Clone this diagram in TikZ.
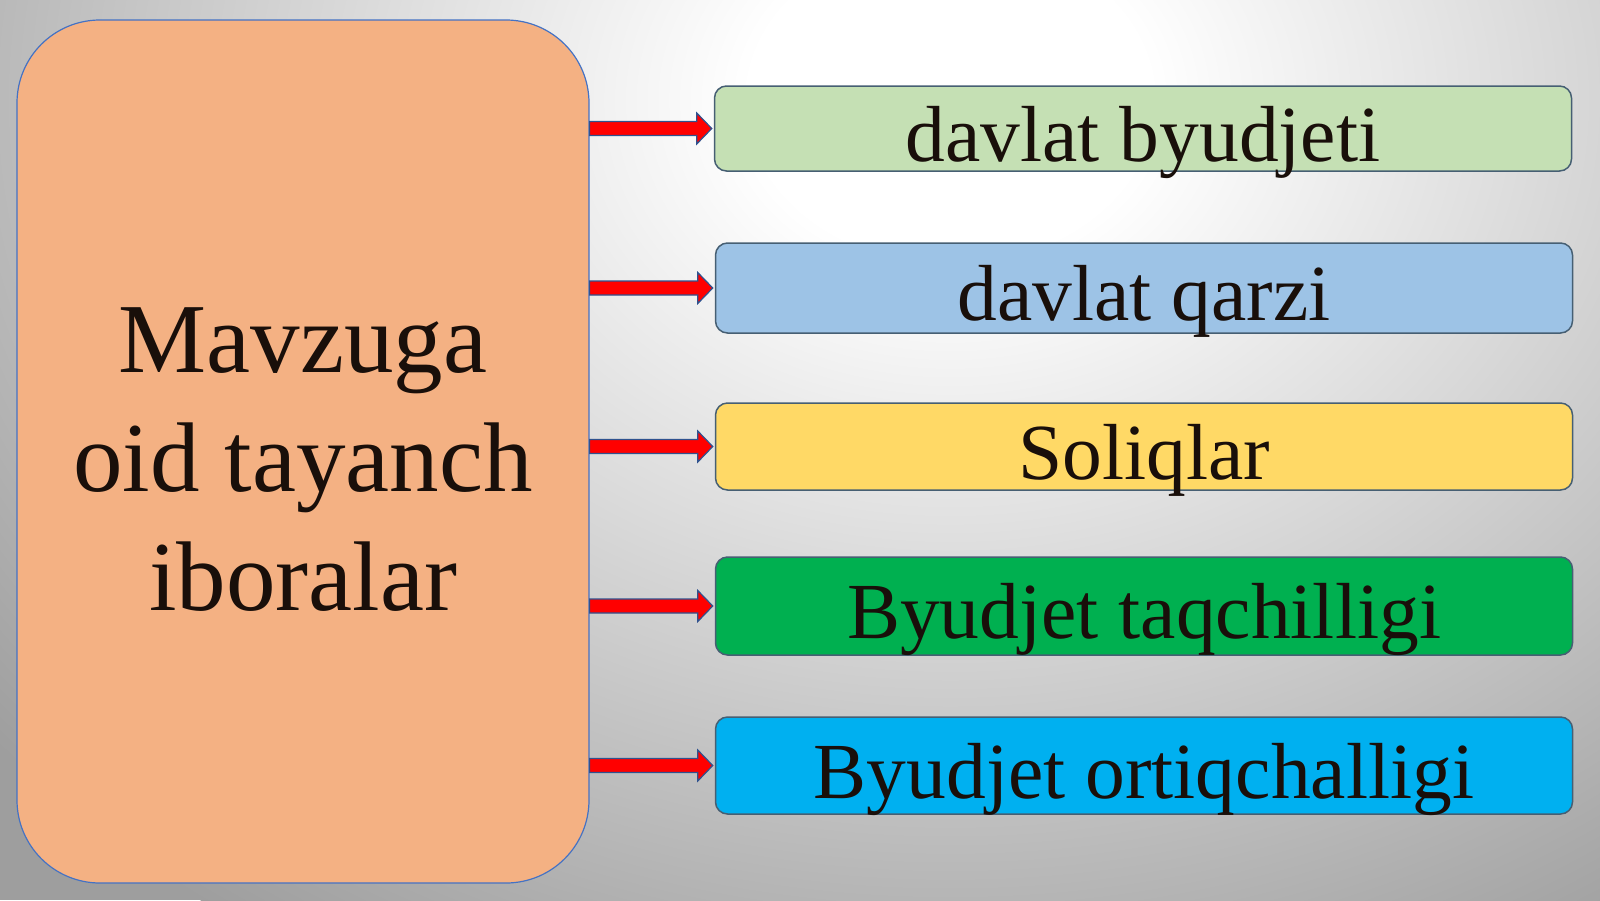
\documentclass[tikz,border=0pt]{standalone}
\usepackage{fontspec}
\setmainfont{Liberation Serif}
\usetikzlibrary{calc}

\definecolor{bgedge}{RGB}{158,158,158}
\definecolor{topicfill}{HTML}{F4B183}
\definecolor{topicline}{HTML}{4472C4}
\definecolor{keyline}{RGB}{70,95,115}
\definecolor{arrowline}{HTML}{2F528F}
\definecolor{inktext}{RGB}{25,15,10}
\definecolor{kbudget}{HTML}{C5E0B4}
\definecolor{kdebt}{HTML}{9DC3E6}
\definecolor{ktax}{HTML}{FFD966}
\definecolor{kdeficit}{HTML}{00B050}
\definecolor{ksurplus}{HTML}{00B0F0}

\pgfdeclareradialshading{backdrop}{\pgfpoint{0bp}{0bp}}{color(0bp)=(white); color(4bp)=(white); color(25bp)=(bgedge); color(50bp)=(bgedge)}

\tikzset{
    topicbox/.style={draw=topicline, fill=topicfill, line width=1.2pt, rounded corners=83pt,
        minimum width=572pt, minimum height=863pt, inner sep=0pt},
    topictext/.style={font=\fontsize{99}{119}\selectfont, text=inktext, align=center, inner sep=0pt},
    keybox/.style={draw=keyline, line width=1.5pt, rounded corners=12pt, minimum width=857pt,
        inner sep=0pt, text height=65pt, text depth=0pt, text=inktext,
        font=\fontsize{79.5}{95}\selectfont},
    blockarrow/.style={draw=arrowline, fill=red, line width=1.2pt, line join=miter}
}

\begin{document}
\begin{tikzpicture}[x=1pt,y=-1pt]
    \useasboundingbox (0,0) rectangle (1600,900);
    \begin{scope}
        \clip (0,0) rectangle (1600,900);
        \fill[bgedge] (0,0) rectangle (1600,900);
        \shade[shading=backdrop] (950,100) ellipse [x radius=1250pt, y radius=1000pt];
    \end{scope}

    \node[topicbox] (topic) at (303,451.5) {};
    \node[topictext] (topiclabel) at (303,460) {Mavzuga\\oid tayanch\\iboralar};

    \node[keybox, fill=kbudget,  minimum height=85pt] (k1) at (1143,128.5) {davlat byudjeti};
    \node[keybox, fill=kdebt,    minimum height=90pt] (k2) at (1144,288) {davlat qarzi};
    \node[keybox, fill=ktax,     minimum height=87pt] (k3) at (1144,446.5) {Soliqlar};
    \node[keybox, fill=kdeficit, minimum height=98pt] (k4) at (1144,606) {Byudjet taqchilligi};
    \node[keybox, fill=ksurplus, minimum height=97pt] (k5) at (1144,765.5) {Byudjet ortiqchalligi};

    % block arrows from the topic to each key phrase
    \foreach \k in {1,...,5} {
        \coordinate (s\k) at (topic.east |- k\k.west);
        \draw[blockarrow] ($(s\k)+(0,-7)$) -- ($(k\k.west)+(-17,-7)$) -- ($(k\k.west)+(-17,-15.5)$)
            -- ($(k\k.west)+(-2,0)$) -- ($(k\k.west)+(-17,15.5)$) -- ($(k\k.west)+(-17,7)$)
            -- ($(s\k)+(0,7)$) -- cycle;
    }
\end{tikzpicture}
\end{document}
